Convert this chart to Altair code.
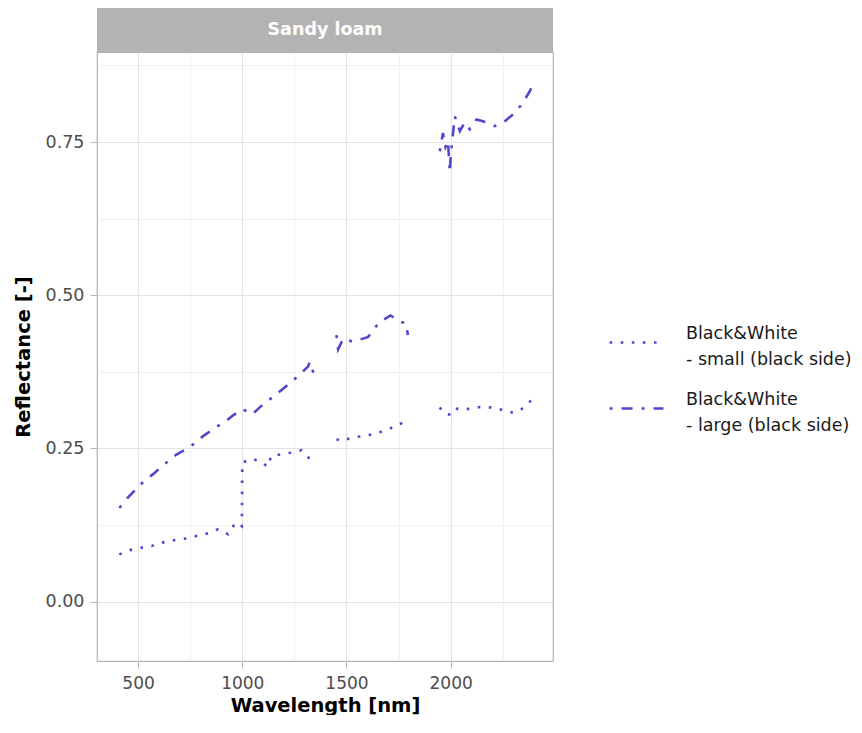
import altair as alt
import pandas as pd

# ---- data ----
series_names = ["Black&White|- small (black side)", "Black&White|- large (black side)"]

small_wl = [[410, 460, 516, 569, 612, 671, 729, 780, 831, 884, 932, 943, 972, 998, 1000, 1049, 1092, 1121, 1140, 1180, 1231, 1284, 1316, 1340],
            [1452, 1476, 1529, 1583, 1639, 1692, 1740, 1788],
            [1948, 1963, 2004, 2032, 2076, 2124, 2172, 2220, 2259, 2299, 2340, 2379, 2394]]
small_refl = [[0.077, 0.084, 0.088, 0.091, 0.096, 0.100, 0.103, 0.107, 0.111, 0.118, 0.110, 0.118, 0.129, 0.123, 0.227, 0.233, 0.228, 0.220, 0.238, 0.240, 0.243, 0.247, 0.236, 0.221],
              [0.265, 0.262, 0.268, 0.270, 0.274, 0.280, 0.287, 0.295],
              [0.317, 0.309, 0.304, 0.315, 0.314, 0.317, 0.318, 0.315, 0.312, 0.308, 0.314, 0.326, 0.330]]

large_wl = [[410, 452, 524, 572, 615, 684, 748, 812, 876, 924, 956, 1001, 1049, 1100, 1148, 1212, 1272, 1316, 1324, 1348],
            [1452, 1460, 1484, 1532, 1604, 1644, 1668, 1711, 1764, 1784, 1795],
            [1948, 1963, 1975, 1987, 1996, 1999, 2008, 2020, 2044, 2068, 2092, 2124, 2155, 2212, 2260, 2299, 2340, 2371, 2396]]
large_refl = [[0.153, 0.170, 0.195, 0.208, 0.221, 0.240, 0.252, 0.270, 0.285, 0.295, 0.304, 0.314, 0.306, 0.322, 0.334, 0.352, 0.369, 0.384, 0.391, 0.367],
              [0.435, 0.412, 0.429, 0.424, 0.432, 0.450, 0.458, 0.467, 0.456, 0.455, 0.435],
              [0.735, 0.765, 0.742, 0.752, 0.700, 0.722, 0.754, 0.792, 0.768, 0.782, 0.771, 0.787, 0.784, 0.776, 0.784, 0.795, 0.811, 0.828, 0.843]]

facet_label = ["Sandy loam"]

rows = []
for name, wls, refls in [(series_names[0], small_wl, small_refl), (series_names[1], large_wl, large_refl)]:
    for si, (ws, rs) in enumerate(zip(wls, refls)):
        for i, (w, r) in enumerate(zip(ws, rs)):
            rows.append({"series": name, "seg": f"{name}-{si}", "order": i, "wl": w, "refl": r})
df = pd.DataFrame(rows)

W, H = 456, 609
COLOR = "#4F47CC"
FONT = "DejaVu Sans"

x_vals = [500, 750, 1000, 1250, 1500, 1750, 2000, 2250]
y_vals = [0.0, 0.125, 0.25, 0.375, 0.5, 0.625, 0.75, 0.875]

lines = alt.Chart(df).mark_line(color=COLOR, strokeWidth=2.6, strokeCap="butt").encode(
    x=alt.X("wl:Q", title="Wavelength [nm]",
            scale=alt.Scale(domain=[303, 2491], nice=False, zero=False),
            axis=alt.Axis(values=x_vals, format="d", labelPadding=7, titlePadding=5,
                          labelExpr="datum.value % 500 === 0 ? datum.label : ''",
                          gridWidth={"condition": {"test": "datum.value % 500 === 0", "value": 1.1}, "value": 0.5},
                          tickOpacity={"condition": {"test": "datum.value % 500 === 0", "value": 1}, "value": 0})),
    y=alt.Y("refl:Q", title="Reflectance [-]",
            scale=alt.Scale(domain=[-0.097, 0.897], nice=False, zero=False),
            axis=alt.Axis(values=y_vals, format=".2f", labelPadding=6, titlePadding=12,
                          labelFontSize=17.5,
                          labelExpr="round(datum.value*1000) % 250 === 0 ? datum.label : ''",
                          gridWidth={"condition": {"test": "round(datum.value*1000) % 250 === 0", "value": 1.1}, "value": 0.5},
                          tickOpacity={"condition": {"test": "round(datum.value*1000) % 250 === 0", "value": 1}, "value": 0})),
    strokeDash=alt.StrokeDash("series:N", sort=series_names,
                              scale=alt.Scale(domain=series_names, range=[[2.6, 8.5], [3, 9, 11, 9]]),
                              legend=alt.Legend(title=None, orient="none", legendX=511, legendY=262,
                                                labelExpr="split(datum.label, '|')",
                                                labelBaseline="bottom", labelLimit=300,
                                                symbolType="stroke", symbolSize=2900,
                                                symbolStrokeWidth=2.6, symbolStrokeColor=COLOR,
                                                labelFontSize=17.5, labelColor="#1A1A1A", labelFont=FONT,
                                                labelOffset=21, rowPadding=11, padding=0)),
    detail="seg:N",
    order="order:Q",
)

strip_df = pd.DataFrame({"label": facet_label})
strip = alt.Chart(strip_df).mark_rect(color="#B3B3B3").encode(
    x=alt.value(0), x2=alt.value(W), y=alt.value(-44), y2=alt.value(0))
strip_text = alt.Chart(strip_df).mark_text(color="white", fontWeight="bold", fontSize=17.5, font=FONT,
                                           align="center", baseline="middle").encode(
    x=alt.value(W / 2), y=alt.value(-22), text="label:N")

chart = alt.layer(strip, strip_text, lines).properties(
    width=W, height=H, padding={"left": 5, "top": 0, "right": 0, "bottom": 0}
).configure(style={"guide-label": {"lineHeight": 26.5}}
).configure_view(stroke="#B3B3B3", strokeWidth=1.2).configure_axis(
    labelFont=FONT, labelFontSize=17, labelColor="#4D4D4D",
    titleFont=FONT, titleFontSize=19.5, titleFontWeight="bold", titleColor="black",
    tickColor="#B3B3B3", tickSize=7, domain=False, gridColor="#E3E3E3",
)

chart.save("out.html", embed_options={"renderer": "svg", "actions": False})
